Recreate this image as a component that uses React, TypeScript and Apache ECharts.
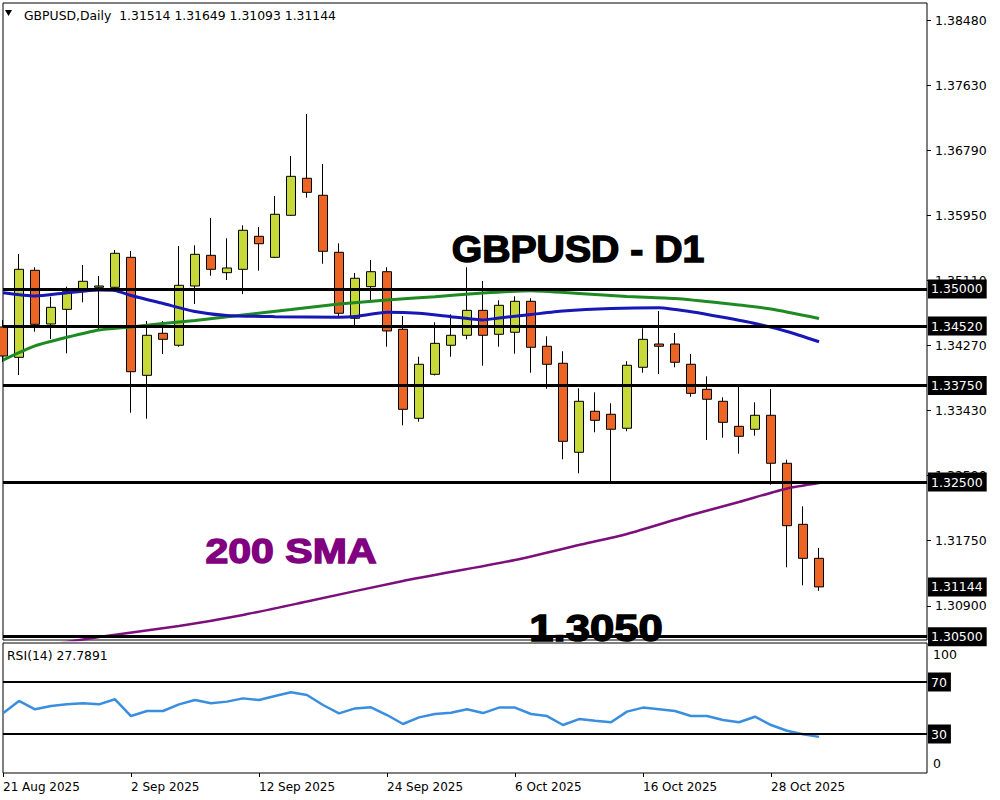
import React, { useEffect, useRef } from 'react';
import * as echarts from 'echarts';

// ---------- data ----------
const dates = [
  '21 Aug 2025', '22 Aug 2025', '25 Aug 2025', '26 Aug 2025', '27 Aug 2025', '28 Aug 2025', '29 Aug 2025', '1 Sep 2025',
  '2 Sep 2025', '3 Sep 2025', '4 Sep 2025', '5 Sep 2025', '8 Sep 2025', '9 Sep 2025', '10 Sep 2025', '11 Sep 2025',
  '12 Sep 2025', '15 Sep 2025', '16 Sep 2025', '17 Sep 2025', '18 Sep 2025', '19 Sep 2025', '22 Sep 2025', '23 Sep 2025',
  '24 Sep 2025', '25 Sep 2025', '26 Sep 2025', '29 Sep 2025', '30 Sep 2025', '1 Oct 2025', '2 Oct 2025', '3 Oct 2025',
  '6 Oct 2025', '7 Oct 2025', '8 Oct 2025', '9 Oct 2025', '10 Oct 2025', '13 Oct 2025', '14 Oct 2025', '15 Oct 2025',
  '16 Oct 2025', '17 Oct 2025', '20 Oct 2025', '21 Oct 2025', '22 Oct 2025', '23 Oct 2025', '24 Oct 2025', '27 Oct 2025',
  '28 Oct 2025', '29 Oct 2025', '30 Oct 2025', '31 Oct 2025',
];
const dateTickIndex = [0, 8, 16, 24, 32, 40, 48];

const opens = [1.34507, 1.34115, 1.35241, 1.34546, 1.34736, 1.34964, 1.35021, 1.35021, 1.35409, 1.33882, 1.34426, 1.34271, 1.35038, 1.35435, 1.35210, 1.35254, 1.35681, 1.35409, 1.35953, 1.36432, 1.36212, 1.35474, 1.34620, 1.35029, 1.35223, 1.34478, 1.33326, 1.33895, 1.34271, 1.34400, 1.34723, 1.34413, 1.34439, 1.34840, 1.34258, 1.34038, 1.32886, 1.33417, 1.33378, 1.33197, 1.33986, 1.34287, 1.34287, 1.34025, 1.33701, 1.33546, 1.33222, 1.33184, 1.33365, 1.32744, 1.31954, 1.31514];
const closes = [1.34132, 1.35254, 1.34542, 1.34762, 1.34964, 1.35099, 1.35038, 1.35461, 1.33929, 1.34400, 1.34348, 1.35047, 1.35448, 1.35254, 1.35271, 1.35759, 1.35585, 1.35966, 1.36457, 1.36250, 1.35487, 1.34685, 1.35138, 1.35223, 1.34456, 1.33442, 1.34025, 1.34296, 1.34400, 1.34723, 1.34400, 1.34788, 1.34840, 1.34245, 1.34025, 1.33028, 1.33546, 1.33300, 1.33184, 1.34012, 1.34348, 1.34258, 1.34051, 1.33649, 1.33572, 1.33274, 1.33093, 1.33365, 1.32744, 1.31936, 1.31514, 1.31144];
const highs = [1.34598, 1.35452, 1.35280, 1.34899, 1.35029, 1.35310, 1.35167, 1.35504, 1.35491, 1.34585, 1.34585, 1.35556, 1.35565, 1.35918, 1.35655, 1.35823, 1.35801, 1.36203, 1.36720, 1.37264, 1.36617, 1.35590, 1.35206, 1.35374, 1.35280, 1.34650, 1.34123, 1.34568, 1.34672, 1.35280, 1.35103, 1.34853, 1.34905, 1.34879, 1.34387, 1.34193, 1.33714, 1.33662, 1.33520, 1.34064, 1.34491, 1.34714, 1.34430, 1.34158, 1.33869, 1.33598, 1.33744, 1.33533, 1.33705, 1.32790, 1.32187, 1.31649];
const lows = [1.34055, 1.33886, 1.34447, 1.34352, 1.34167, 1.34827, 1.34469, 1.34999, 1.33398, 1.33321, 1.34158, 1.34252, 1.34805, 1.35171, 1.35116, 1.34934, 1.35236, 1.35400, 1.35945, 1.36181, 1.35326, 1.34650, 1.34511, 1.34857, 1.34252, 1.33235, 1.33282, 1.33880, 1.34123, 1.34348, 1.34007, 1.34252, 1.34162, 1.33916, 1.33709, 1.32795, 1.32614, 1.33145, 1.32485, 1.33158, 1.33916, 1.33899, 1.33986, 1.33605, 1.33045, 1.33075, 1.32868, 1.33101, 1.32467, 1.31398, 1.31165, 1.31093];

// moving averages, read at selected bars
const maGreenBars = [0, 2, 4, 6, 8, 10, 12, 15, 18, 21, 24, 27, 30, 33, 36, 39, 42, 45, 48, 51];
const maGreenValues = [1.34080, 1.34262, 1.34374, 1.34469, 1.34507, 1.34553, 1.34592, 1.34663, 1.34734, 1.34805, 1.34857, 1.34899, 1.34947, 1.34977, 1.34941, 1.34902, 1.34876, 1.34814, 1.34740, 1.34617];
const maBlueBars = [0, 2, 4, 6, 7, 8, 10, 12, 14, 17, 21, 22, 24, 26, 28, 30, 31, 33, 35, 38, 41, 43, 45, 47, 49, 51];
const maBlueValues = [1.34951, 1.34909, 1.34951, 1.34986, 1.34980, 1.34915, 1.34812, 1.34708, 1.34656, 1.34641, 1.34633, 1.34643, 1.34698, 1.34685, 1.34641, 1.34598, 1.34624, 1.34669, 1.34714, 1.34747, 1.34757, 1.34705, 1.34633, 1.34553, 1.34449, 1.34317];
const sma200Bars = [0, 6, 11, 15, 19, 25, 32, 36, 39, 43, 46, 49, 51];
const sma200Values = [1.30300, 1.30496, 1.30638, 1.30781, 1.30955, 1.31221, 1.31492, 1.31686, 1.31829, 1.32075, 1.32243, 1.32418, 1.32489];

const rsiValues = [45.9, 55.4, 49.0, 51.5, 52.8, 53.6, 52.8, 56.7, 43.8, 47.7, 47.7, 52.8, 56.2, 53.6, 54.9, 57.4, 56.2, 59.2, 62.1, 60.0, 52.3, 45.9, 49.7, 50.5, 44.6, 37.7, 42.8, 45.4, 46.4, 49.0, 46.1, 50.3, 50.3, 45.4, 43.8, 36.9, 41.5, 40.2, 39.0, 47.2, 50.3, 49.0, 47.7, 43.8, 43.8, 40.8, 39.0, 43.3, 36.9, 32.5, 29.8, 27.8];
const rsiReading = '27.7891';

const priceTicks = [1.3848, 1.3763, 1.3679, 1.3595, 1.3511, 1.3427, 1.3343, 1.3259, 1.3175, 1.309];
const priceLevels = [1.35, 1.3452, 1.3375, 1.325, 1.305];
const rsiLevels = [70, 30];
const rsiTicks = [0, 100];

export default function App() {
  const ref = useRef<HTMLDivElement>(null);

  useEffect(() => {
    if (!ref.current) return;
    const chart = echarts.init(ref.current, null, { renderer: 'svg' });
    const font = 'DejaVu Sans';
    const xMax = 57.75;
    const n = opens.length;
    const candles = opens.map((o, i) => [i, o, closes[i], lows[i], highs[i]]);
    const pair = (bars: number[], vals: number[]) => bars.map((b, k) => [b, vals[k]]);
    const last = n - 1;
    const header = `GBPUSD,Daily  ${opens[last].toFixed(5)} ${highs[last].toFixed(5)} ${lows[last].toFixed(5)} ${closes[last].toFixed(5)}`;

    const boxLabel = (digits: number) => ({
      show: true,
      position: 'end',
      distance: 1,
      formatter: (p: any) => Number(p.value).toFixed(digits),
      backgroundColor: '#000',
      color: '#fff',
      padding: [3, 4, 3, 3],
      fontFamily: font,
      fontSize: 12.5,
    });

    const option: any = {
      animation: false,
      backgroundColor: '#fff',
      grid: [
        { left: 3, top: 3, width: 924, height: 637, show: true, borderColor: '#000', borderWidth: 1, backgroundColor: 'transparent' },
        { left: 3, top: 643, width: 924, height: 130, show: true, borderColor: '#000', borderWidth: 1, backgroundColor: 'transparent' },
      ],
      xAxis: [
        { type: 'value', gridIndex: 0, min: 0, max: xMax, show: false, axisLine: { onZero: false } },
        {
          type: 'value', gridIndex: 1, min: 0, max: xMax, position: 'bottom',
          splitLine: { show: false },
          axisLine: { show: false, onZero: false },
          axisTick: { show: true, customValues: dateTickIndex, length: 4, lineStyle: { color: '#000' } },
          axisLabel: {
            customValues: dateTickIndex,
            formatter: (v: number) => dates[Math.round(v)],
            align: 'left', color: '#000', fontFamily: font, fontSize: 12, margin: 8,
          },
        },
      ],
      yAxis: [
        {
          type: 'value', gridIndex: 0, position: 'right', min: 1.30457, max: 1.387,
          splitLine: { show: false },
          axisLine: { show: false, onZero: false },
          axisTick: { show: true, customValues: priceTicks, length: 4, lineStyle: { color: '#000' } },
          axisLabel: {
            customValues: priceTicks,
            formatter: (v: number) => v.toFixed(5),
            color: '#000', fontFamily: font, fontSize: 12.5, margin: 8,
          },
        },
        {
          type: 'value', gridIndex: 1, position: 'right', min: 0, max: 100,
          splitLine: { show: false },
          axisLine: { show: false, onZero: false },
          axisTick: { show: false },
          axisLabel: {
            customValues: rsiTicks,
            formatter: (v: number) => String(v),
            color: '#000', fontFamily: font, fontSize: 12.5, margin: 6,
            padding: [5, 0, 3, 0],
            verticalAlignMinLabel: 'bottom', verticalAlignMaxLabel: 'top',
          },
        },
      ],
      series: [
        {
          type: 'candlestick',
          xAxisIndex: 0, yAxisIndex: 0,
          data: candles,
          barWidth: 10,
          clip: true,
          itemStyle: {
            color: '#c6d83a', color0: '#ec6527',
            borderColor: '#000', borderColor0: '#000', borderWidth: 1,
          },
          markLine: {
            silent: true,
            precision: 5,
            symbol: ['none', 'none'],
            lineStyle: { color: '#000', width: 3, type: 'solid' },
            label: boxLabel(5),
            emphasis: { disabled: true },
            data: [
              ...priceLevels.map((v) => ({ yAxis: v })),
              { yAxis: closes[last], lineStyle: { color: 'rgba(0,0,0,0)', width: 0 } },
            ],
          },
        },
        {
          type: 'line', xAxisIndex: 0, yAxisIndex: 0,
          data: pair(maGreenBars, maGreenValues),
          showSymbol: false, symbol: 'none', smooth: 0.2,
          lineStyle: { color: '#1d8a22', width: 3 },
        },
        {
          type: 'line', xAxisIndex: 0, yAxisIndex: 0,
          data: pair(maBlueBars, maBlueValues),
          showSymbol: false, symbol: 'none', smooth: 0.2,
          lineStyle: { color: '#1717b5', width: 3 },
        },
        {
          type: 'line', xAxisIndex: 0, yAxisIndex: 0,
          data: pair(sma200Bars, sma200Values),
          showSymbol: false, symbol: 'none', smooth: 0.2,
          lineStyle: { color: '#7d0f7d', width: 2.5 },
        },
        {
          type: 'line', xAxisIndex: 1, yAxisIndex: 1,
          data: rsiValues.map((v, i) => [i, v]),
          showSymbol: false, symbol: 'none',
          lineStyle: { color: '#3a8ee0', width: 2.5 },
          markLine: {
            silent: true,
            precision: 2,
            symbol: ['none', 'none'],
            lineStyle: { color: '#000', width: 2, type: 'solid' },
            label: boxLabel(0),
            emphasis: { disabled: true },
            data: rsiLevels.map((v) => ({ yAxis: v })),
          },
        },
      ],
      graphic: [
        { type: 'polygon', shape: { points: [[5, 10], [12, 10], [8.5, 16]] }, style: { fill: '#000' } },
        { type: 'text', x: 24, y: 15, style: { text: header, fill: '#000', font: `12.4px "${font}"`, verticalAlign: 'middle', textVerticalAlign: 'middle' } },
        { type: 'text', x: 7, y: 655, style: { text: `RSI(14) ${rsiReading}`, fill: '#000', font: `12.4px "${font}"`, verticalAlign: 'middle', textVerticalAlign: 'middle' } },
        {
          type: 'text', x: 578, y: 248.5, scaleX: 1.06,
          style: { text: 'GBPUSD - D1', fill: '#000', stroke: '#000', lineWidth: 1.4, font: 'bold 37px "Liberation Sans"', align: 'center', verticalAlign: 'middle', textAlign: 'center', textVerticalAlign: 'middle' },
        },
        {
          type: 'text', x: 291, y: 550, scaleX: 1.14,
          style: { text: '200 SMA', fill: '#800080', stroke: '#800080', lineWidth: 1.4, font: 'bold 36px "Liberation Sans"', align: 'center', verticalAlign: 'middle', textAlign: 'center', textVerticalAlign: 'middle' },
        },
        {
          type: 'text', x: 596, y: 628.5, scaleX: 1.18,
          style: { text: '1.3050', fill: '#000', stroke: '#000', lineWidth: 1.4, font: 'bold 37px "Liberation Sans"', align: 'center', verticalAlign: 'middle', textAlign: 'center', textVerticalAlign: 'middle' },
        },
      ],
    };

    chart.setOption(option);
    return () => chart.dispose();
  }, []);

  return (
    <div
      ref={ref}
      style={{ position: 'absolute', left: 0, top: 0, width: 1000, height: 800, background: '#fff' }}
    />
  );
}
